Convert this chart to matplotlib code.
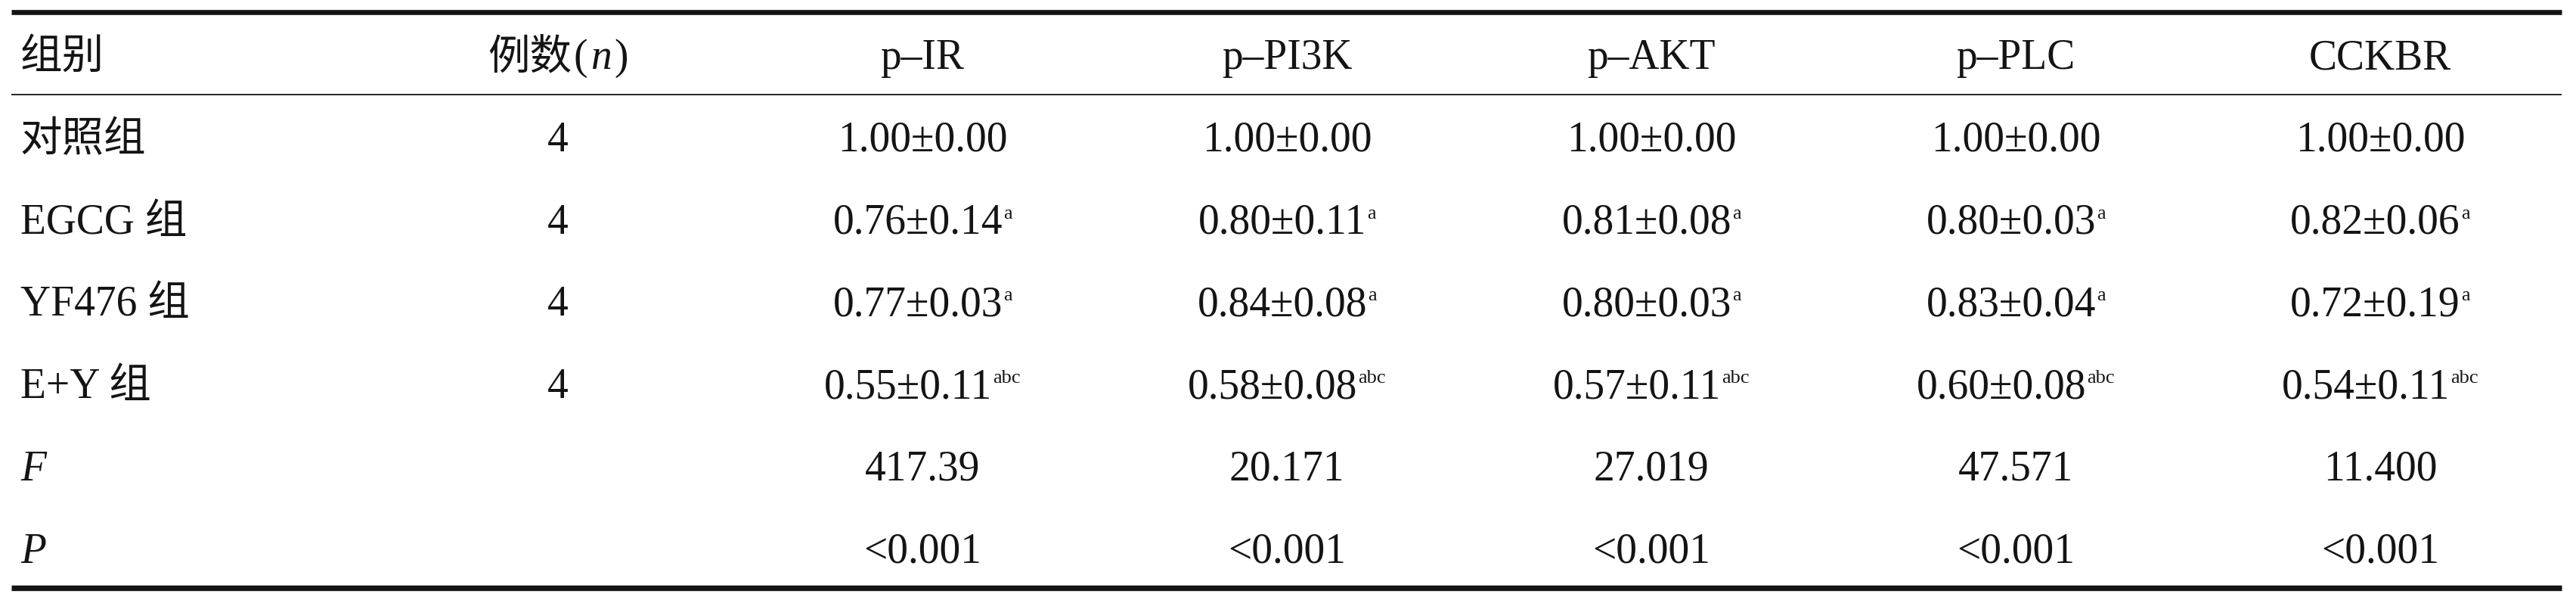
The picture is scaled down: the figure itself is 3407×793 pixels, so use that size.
#!/usr/bin/env python3

import matplotlib

matplotlib.use("Agg")
import matplotlib.pyplot as plt

# table content
markers = ["p–IR", "p–PI3K", "p–AKT", "p–PLC", "CCKBR"]
groups = ["对照组", "EGCG 组", "YF476 组", "E+Y 组"]
n_cases = [4, 4, 4, 4]
sig_letters = ["", "a", "a", "abc"]

mean_p_ir = [1.00, 0.76, 0.77, 0.55]
sd_p_ir = [0.00, 0.14, 0.03, 0.11]
mean_p_pi3k = [1.00, 0.80, 0.84, 0.58]
sd_p_pi3k = [0.00, 0.11, 0.08, 0.08]
mean_p_akt = [1.00, 0.81, 0.80, 0.57]
sd_p_akt = [0.00, 0.08, 0.03, 0.11]
mean_p_plc = [1.00, 0.80, 0.83, 0.60]
sd_p_plc = [0.00, 0.03, 0.04, 0.08]
mean_cckbr = [1.00, 0.82, 0.72, 0.54]
sd_cckbr = [0.00, 0.06, 0.19, 0.11]

f_values = ["417.39", "20.171", "27.019", "47.571", "11.400"]
p_values = ["<0.001", "<0.001", "<0.001", "<0.001", "<0.001"]

means = [mean_p_ir, mean_p_pi3k, mean_p_akt, mean_p_plc, mean_cckbr]
sds = [sd_p_ir, sd_p_pi3k, sd_p_akt, sd_p_plc, sd_cckbr]

# layout (pixels)
W, H = 3407, 793
SERIF = ["Liberation Serif", "Noto Sans CJK SC"]
MAIN_SIZE = 40
SUP_SIZE = 19
INK = "#141414"
LEFT_X = 27
N_X = 738
COL_X0 = 1220
COL_STEP = 482
HEADER_Y = 91
ROW_Y0 = 200
ROW_STEP = 108.7

fig = plt.figure(figsize=(W / 100, H / 100), dpi=100)
ax = fig.add_axes([0, 0, 1, 1])
ax.set_xlim(0, W)
ax.set_ylim(H, 0)
ax.axis("off")
renderer = fig.canvas.get_renderer()


def draw_runs(x, y, runs, ha="center"):
    """Draw text pieces side by side on one baseline; runs = [(text, style)]."""
    texts = []
    for s, style in runs:
        t = ax.text(0, y - style.get("dy", 0), s, ha="left", va="baseline",
                    family=SERIF, fontsize=style.get("size", MAIN_SIZE),
                    fontstyle=style.get("style", "normal"), color=INK)
        texts.append((t, style.get("gap", 0)))
    widths = [t.get_window_extent(renderer).width + g for t, g in texts]
    total = sum(widths)
    cur = x - total / 2 if ha == "center" else x
    for (t, g), w in zip(texts, widths):
        t.set_x(cur + g)
        cur += w


def value_runs(text, letters):
    runs = [(text, {})]
    if letters:
        runs.append((letters, {"size": SUP_SIZE, "dy": 20, "gap": 1}))
    return runs


# header
draw_runs(LEFT_X, HEADER_Y, [("组别", {})], ha="left")
draw_runs(N_X, HEADER_Y, [("例数", {}), ("(", {"gap": 2}),
                          ("n", {"style": "italic", "gap": 4}),
                          (")", {"gap": 4})])
for j, name in enumerate(markers):
    draw_runs(COL_X0 + j * COL_STEP, HEADER_Y, [(name, {})])

# group rows
for i, group in enumerate(groups):
    y = ROW_Y0 + i * ROW_STEP
    draw_runs(LEFT_X, y, [(group, {})], ha="left")
    draw_runs(N_X, y, [(str(n_cases[i]), {})])
    for j in range(len(markers)):
        txt = f"{means[j][i]:.2f}±{sds[j][i]:.2f}"
        draw_runs(COL_X0 + j * COL_STEP, y, value_runs(txt, sig_letters[i]))

# statistics rows
y_f = ROW_Y0 + len(groups) * ROW_STEP
y_p = y_f + ROW_STEP
draw_runs(LEFT_X, y_f, [("F", {"style": "italic"})], ha="left")
draw_runs(LEFT_X, y_p, [("P", {"style": "italic"})], ha="left")
for j in range(len(markers)):
    draw_runs(COL_X0 + j * COL_STEP, y_f, [(f_values[j], {})])
    draw_runs(COL_X0 + j * COL_STEP, y_p, [(p_values[j], {})])

# three-line table rules
ax.plot([15, 3388], [16, 16], color=INK, lw=4.8, solid_capstyle="butt")
ax.plot([15, 3388], [125, 125], color=INK, lw=1.3, solid_capstyle="butt")
ax.plot([15, 3388], [777, 777], color=INK, lw=5.3, solid_capstyle="butt")

fig.savefig("out.png", dpi=100, facecolor="white")
plt.close(fig)
